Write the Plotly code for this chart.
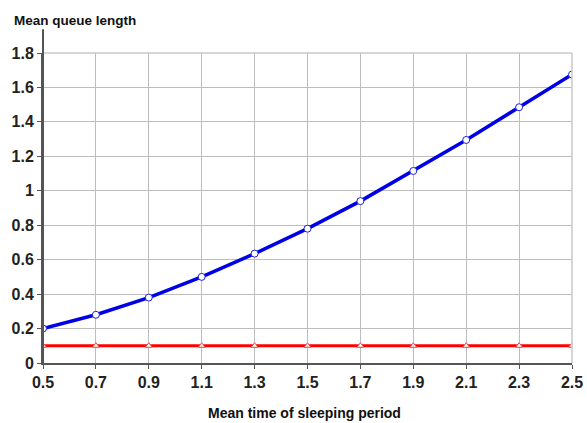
import plotly.graph_objects as go

# Mean time of sleeping period (x) and the resulting mean queue length
sleep_time = [0.5, 0.7, 0.9, 1.1, 1.3, 1.5, 1.7, 1.9, 2.1, 2.3, 2.5]
queue_blue = [0.20, 0.28, 0.38, 0.50, 0.635, 0.78, 0.94, 1.115, 1.295, 1.485, 1.675]
queue_red = [0.10, 0.10, 0.10, 0.10, 0.10, 0.10, 0.10, 0.10, 0.10, 0.10, 0.10]

x_ticks = [0.5, 0.7, 0.9, 1.1, 1.3, 1.5, 1.7, 1.9, 2.1, 2.3, 2.5]
y_ticks = [0, 0.2, 0.4, 0.6, 0.8, 1.0, 1.2, 1.4, 1.6, 1.8]
y_labels = ["0", "0.2", "0.4", "0.6", "0.8", "1", "1.2", "1.4", "1.6", "1.8"]

font_family = "Liberation Sans, Arial, sans-serif"

fig = go.Figure()
fig.add_trace(go.Scatter(
    x=sleep_time, y=queue_red, mode="lines+markers",
    line=dict(color="#ff0000", width=3),
    marker=dict(symbol="triangle-up", size=6, color="white",
                line=dict(color="#ff4040", width=1)),
    showlegend=False, hoverinfo="skip",
))
fig.add_trace(go.Scatter(
    x=sleep_time, y=queue_blue, mode="lines+markers",
    line=dict(color="#0000e6", width=3.5),
    marker=dict(symbol="circle", size=7, color="white",
                line=dict(color="#2020e0", width=1)),
    showlegend=False, hoverinfo="skip",
))

fig.update_layout(
    width=587, height=423,
    margin=dict(l=43, r=15, t=53, b=60),
    paper_bgcolor="white", plot_bgcolor="white",
    font=dict(family=font_family, size=14, color="#111111"),
)
fig.update_xaxes(
    range=[0.5, 2.5], tickvals=x_ticks,
    ticktext=[f"{v:.1f}" for v in x_ticks],
    tickfont=dict(size=16, family=font_family, weight="bold", color="#222222"),
    showgrid=True, gridcolor="#bdbdbd", gridwidth=1,
    showline=True, linecolor="#555555", linewidth=2,
    ticks="outside", ticklen=4, tickcolor="#555555",
    zeroline=False, automargin=False,
)
fig.update_yaxes(
    range=[0, 1.8], tickvals=y_ticks, ticktext=y_labels,
    tickfont=dict(size=16, family=font_family, weight="bold", color="#222222"),
    showgrid=True, gridcolor="#bdbdbd", gridwidth=1,
    showline=True, linecolor="#555555", linewidth=2,
    ticks="outside", ticklen=4, tickcolor="#555555",
    zeroline=False, automargin=False,
)

# light frame on the top and right of the plot area
fig.add_shape(type="line", xref="paper", yref="paper", x0=0, y0=1, x1=1, y1=1,
              line=dict(color="#c8c8c8", width=1.5))
fig.add_shape(type="line", xref="paper", yref="paper", x0=1, y0=0, x1=1, y1=1,
              line=dict(color="#c8c8c8", width=1.5))
# left axis continues above the last tick
fig.add_shape(type="line", xref="paper", yref="paper", x0=0, y0=0, x1=0, y1=1.077,
              line=dict(color="#555555", width=2))

# axis titles: y title above the axis, x title below the tick labels
fig.add_annotation(
    text="<b>Mean queue length</b>", xref="paper", yref="paper",
    x=-0.059, y=(363 - 20) / 310, xanchor="left", yanchor="middle", showarrow=False,
    font=dict(size=13.5, family=font_family, color="#111111"),
)
fig.add_annotation(
    text="<b>Mean time of sleeping period</b>", xref="paper", yref="paper",
    x=(304 - 43) / 529, y=(363 - 413) / 310, xanchor="center", yanchor="middle",
    showarrow=False,
    font=dict(size=14, family=font_family, color="#111111"),
)

fig.write_html("out.html")
